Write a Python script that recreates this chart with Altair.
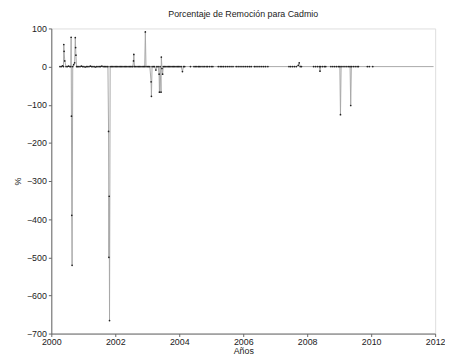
import altair as alt
import pandas as pd

fechas = [
    2000.27, 2000.31, 2000.35, 2000.38, 2000.39, 2000.40, 2000.42, 2000.46, 2000.50, 2000.54,
    2000.58, 2000.61, 2000.62, 2000.63, 2000.64, 2000.65, 2000.67, 2000.70, 2000.73, 2000.75,
    2000.76, 2000.77, 2000.79, 2000.82, 2000.86,
    2000.90, 2000.94, 2000.98, 2001.02, 2001.06, 2001.10, 2001.14, 2001.18, 2001.22, 2001.26,
    2001.30, 2001.34, 2001.38, 2001.42, 2001.46, 2001.50, 2001.54, 2001.58, 2001.62, 2001.66,
    2001.70, 2001.74, 2001.77,
    2001.79, 2001.80, 2001.81, 2001.82, 2001.84,
    2001.88, 2001.92, 2001.96, 2002.00, 2002.04, 2002.08, 2002.12, 2002.16, 2002.20, 2002.24,
    2002.28, 2002.32, 2002.36, 2002.40, 2002.44, 2002.48, 2002.52, 2002.55,
    2002.57, 2002.58, 2002.60, 2002.64, 2002.68, 2002.72, 2002.76, 2002.80, 2002.84, 2002.88,
    2002.92, 2002.94, 2002.96, 2003.00, 2003.04, 2003.08, 2003.12, 2003.13, 2003.15, 2003.19,
    2003.23, 2003.27, 2003.30, 2003.34, 2003.37, 2003.38, 2003.40, 2003.43, 2003.44, 2003.46,
    2003.48, 2003.50, 2003.54, 2003.58, 2003.62, 2003.66, 2003.70, 2003.74, 2003.78, 2003.82,
    2003.86, 2003.90, 2003.94, 2003.98, 2004.02, 2004.06, 2004.10, 2004.13, 2004.17,
    2004.35, 2004.46, 2004.50, 2004.55, 2004.60, 2004.64, 2004.68, 2004.74, 2004.78, 2004.84,
    2004.88, 2004.94, 2005.00, 2005.05, 2005.22, 2005.28, 2005.33, 2005.38, 2005.44, 2005.50,
    2005.56, 2005.62, 2005.68, 2005.78, 2005.84, 2005.90, 2005.96, 2006.02, 2006.08, 2006.14,
    2006.20, 2006.25, 2006.35, 2006.40, 2006.46, 2006.52, 2006.58, 2006.64, 2006.70, 2006.77,
    2007.43, 2007.48, 2007.54, 2007.60, 2007.66, 2007.72, 2007.75, 2007.78, 2007.82,
    2008.20, 2008.26, 2008.32, 2008.38, 2008.40, 2008.42, 2008.48, 2008.54, 2008.58, 2008.74,
    2008.80, 2008.86, 2008.92, 2008.98, 2009.02, 2009.04, 2009.06, 2009.12, 2009.18, 2009.24,
    2009.30, 2009.34, 2009.36, 2009.38, 2009.44, 2009.50, 2009.56, 2009.60,
    2009.88, 2009.94, 2010.05, 2011.95,
]

remocion = [
    0, 0, 2, 0, 58, 40, 15, 0, 0, 1,
    0, 0, 77, -130, -390, -521, 0, 5, 10, 76,
    50, 30, 0, 0, 0,
    0, 1, 0, 0, -1, 0, 0, 0, 1, 0,
    0, 0, -1, 0, 0, 0, 0, 1, 0, 0,
    0, 0, 0,
    -170, -500, -340, -666, 0,
    0, 0, 0, 0, 0, 0, 0, 0, 0, 0,
    0, 0, 0, 0, 0, 0, 0, 0,
    15, 32, 0, 0, 0, 0, 0, 0, 0, 0,
    0, 91, 0, 0, 0, 0, -40, -78, 0, 0,
    0, -9, 0, 0, -20, -67, 0, -67, 25, -5,
    -20, 0, 0, 0, 0, 0, 0, 0, 0, 0,
    0, 0, 0, 0, 0, 0, -13, 0, 0,
    0, 0, 0, 0, 0, 0, 0, 0, 0, 0,
    0, 0, 0, 0, 0, 0, 0, 0, 0, 0,
    0, 0, 0, 0, 0, 0, 0, 0, 0, 0,
    0, 0, 0, 0, 0, 0, 0, 0, 0, 0,
    0, 0, 0, 0, 0, 3, 10, 0, 0,
    0, 0, 0, 0, -12, 0, 0, 0, 0, 0,
    0, 0, 0, 0, 0, -126, 0, 0, 0, 0,
    0, 0, -102, 0, 0, 0, 0, 0,
    0, 0, 0, 0,
]

x_ticks = [2000, 2002, 2004, 2006, 2008, 2010, 2012]
y_ticks = [-700, -600, -500, -400, -300, -200, -100, 0, 100]

df = pd.DataFrame({"fecha": fechas, "remocion": remocion})

FONT = "Liberation Sans"

x_enc = alt.X(
    "fecha:Q",
    scale=alt.Scale(domain=[2000, 2012], nice=False, zero=False),
    axis=alt.Axis(values=x_ticks, format="d", title="Años", grid=False,
                  labelFontSize=9, titleFontSize=9, titleFontWeight="normal",
                  labelFont=FONT, titleFont=FONT, labelColor="#222", titleColor="#222",
                  domainColor="#666", tickColor="#666", tickSize=3,
                  labelPadding=1, titlePadding=0, labelFlush=False),
)
y_enc = alt.Y(
    "remocion:Q",
    scale=alt.Scale(domain=[-700, 100], nice=False),
    axis=alt.Axis(values=y_ticks, title="%", grid=False,
                  labelFontSize=9, titleFontSize=9, titleFontWeight="normal",
                  labelFont=FONT, titleFont=FONT, labelColor="#222", titleColor="#222",
                  domainColor="#666", tickColor="#666", tickSize=3,
                  labelPadding=2, titlePadding=4, labelFlush=False),
)

linea = alt.Chart(df).mark_line(color="#a8a8a8", strokeWidth=1).encode(x=x_enc, y=y_enc)
puntos = alt.Chart(df).transform_filter("datum.fecha < 2011").mark_point(
    filled=True, color="#222", size=3, opacity=1
).encode(x=x_enc, y=y_enc)

chart = alt.layer(linea, puntos).properties(
    width=390,
    height=310,
    title=alt.TitleParams("Porcentaje de Remoción para Cadmio", font=FONT, fontSize=9,
                          fontWeight="normal", color="#222", offset=6),
    autosize=alt.AutoSizeParams(type="none"),
    padding={"left": 44, "top": 18, "right": 10, "bottom": 20},
).configure_view(stroke=None).configure(background="white")

chart.save("out.html", embed_options={"renderer": "svg", "actions": False})
